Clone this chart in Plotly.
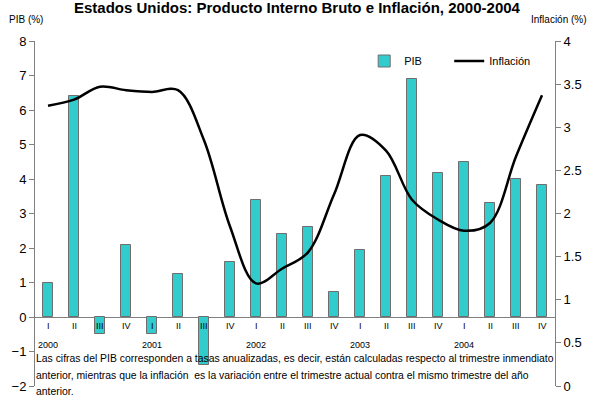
import plotly.graph_objects as go

quarters = ["I", "II", "III", "IV"] * 5
years = ["2000", "2001", "2002", "2003", "2004"]
pib = [1.0, 6.4, -0.5, 2.1, -0.5, 1.25, -1.4, 1.6, 3.4, 2.4, 2.6, 0.73,
       1.94, 4.1, 6.9, 4.17, 4.48, 3.3, 4.0, 3.84]
inflacion = [3.25, 3.32, 3.47, 3.43, 3.41, 3.43, 2.85, 1.85, 1.19, 1.36, 1.55, 2.22,
             2.91, 2.73, 2.16, 1.93, 1.80, 1.89, 2.66, 3.37]
footnote = [
    "Las cifras del PIB corresponden a tasas anualizadas, es decir, están calculadas respecto al trimestre inmendiato",
    "anterior, mientras que la inflación  es la variación entre el trimestre actual contra el mismo trimestre del año",
    "anterior.",
]
title = "Estados Unidos: Producto Interno Bruto e Inflación, 2000-2004"

idx = list(range(len(pib)))
FONT = "Liberation Sans, Arial, sans-serif"

fig = go.Figure()
fig.add_trace(go.Bar(x=idx, y=pib, name="PIB", width=0.37,
                     marker=dict(color="#33CCCC", line=dict(color="#6E6E6E", width=1)),
                     yaxis="y"))
fig.add_trace(go.Scatter(x=idx, y=inflacion, name="Inflación", mode="lines",
                         line=dict(color="black", width=2.5, shape="spline", smoothing=1.0),
                         yaxis="y2"))

ann = []
for i, q in enumerate(quarters):
    ann.append(dict(x=i, y=0, xref="x", yref="y", text=q, showarrow=False,
                    yanchor="top", yshift=-2, font=dict(size=9, family=FONT, color="black")))
for k, yr in enumerate(years):
    ann.append(dict(x=4 * k, y=0, xref="x", yref="y", text=yr, showarrow=False,
                    yanchor="middle", yshift=-28, font=dict(size=9, family=FONT, color="black")))
for j, line in enumerate(footnote):
    ann.append(dict(x=(30 - 31) / 526, y=(386 - (358 + 17 * j)) / 345, xref="paper", yref="paper",
                    text=line, showarrow=False, xanchor="left", yanchor="middle",
                    font=dict(size=10.4, family=FONT, color="black")))
ann.append(dict(x=(297 - 31) / 526, y=(386 - 7) / 345, xref="paper", yref="paper", text="<b>" + title + "</b>",
                showarrow=False, xanchor="center", yanchor="middle",
                font=dict(size=15, family=FONT, color="black")))
ann.append(dict(x=(3 - 31) / 526, y=(386 - 19) / 345, xref="paper", yref="paper", text="PIB (%)",
                showarrow=False, xanchor="left", yanchor="middle",
                font=dict(size=10, family=FONT, color="black")))
ann.append(dict(x=(591 - 31) / 526, y=(386 - 19) / 345, xref="paper", yref="paper", text="Inflación (%)",
                showarrow=False, xanchor="right", yanchor="middle",
                font=dict(size=10, family=FONT, color="black")))

fig.update_layout(
    width=594, height=410,
    margin=dict(l=31, r=37, t=41, b=24),
    plot_bgcolor="white", paper_bgcolor="white",
    font=dict(family=FONT, color="black"),
    showlegend=True,
    legend=dict(orientation="h", x=(364 - 31) / 526, y=(386 - 61) / 345,
                xanchor="left", yanchor="middle", bgcolor="rgba(0,0,0,0)",
                font=dict(size=11, family=FONT), entrywidth=40, entrywidthmode="pixels",
                itemwidth=30, traceorder="normal"),
    xaxis=dict(range=[-0.5, 19.5], visible=False, fixedrange=True),
    yaxis=dict(range=[-2, 8], dtick=1, tick0=0, showgrid=False, zeroline=True,
               zerolinecolor="#808080", zerolinewidth=1,
               showline=True, linecolor="#808080", linewidth=1,
               ticks="outside", ticklen=5, tickcolor="#808080",
               tickfont=dict(size=13, family=FONT, color="black")),
    yaxis2=dict(range=[0, 4], dtick=0.5, tick0=0, overlaying="y", side="right",
                showgrid=False, zeroline=False,
                showline=True, linecolor="#808080", linewidth=1,
                ticks="outside", ticklen=5, tickcolor="#808080",
                tickfont=dict(size=13, family=FONT, color="black")),
    annotations=ann,
    bargap=0,
)

fig.write_html("out.html", config={"displayModeBar": False},
               post_script="document.body.style.margin='0';")
